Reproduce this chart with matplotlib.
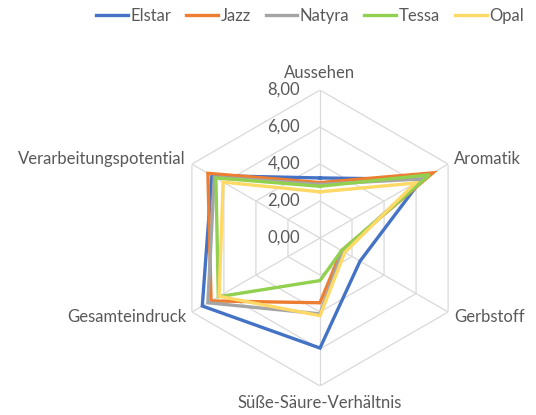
import numpy as np
import matplotlib
matplotlib.use("Agg")
from matplotlib import pyplot as plt
from matplotlib.transforms import offset_copy

plt.rcParams['font.family'] = ['Lato', 'DejaVu Sans']

categories = ["Aussehen", "Aromatik", "Gerbstoff", "Süße-Säure-Verhältnis",
              "Gesamteindruck", "Verarbeitungspotential"]
series_names = ["Elstar", "Jazz", "Natyra", "Tessa", "Opal"]
elstar = [3.25, 6.35, 2.5, 5.95, 7.35, 6.75]
jazz = [3.0, 7.05, 1.35, 3.5, 6.8, 7.0]
natyra = [2.9, 6.4, 1.4, 4.1, 7.0, 6.6]
tessa = [2.8, 6.85, 1.35, 2.3, 6.35, 6.5]
opal = [2.5, 5.95, 1.55, 4.2, 6.3, 6.05]
colors = ["#4472C4", "#ED7D31", "#A5A5A5", "#92D050", "#FFD966"]
levels = [2, 4, 6, 8]
level_labels = ["0,00", "2,00", "4,00", "6,00", "8,00"]

text_col = "#595959"
grid_col = "#D9D9D9"
fs = 12

fig = plt.figure(figsize=(5.36, 4.15), dpi=100)
ax = fig.add_axes([0.321, 0.0699, 0.552, 0.713], projection='polar')
ax.set_theta_offset(np.pi / 2)
ax.set_theta_direction(-1)
ax.set_ylim(0, 8)
ax.grid(False)
ax.spines['polar'].set_visible(False)
ax.set_xticks([])
ax.set_yticks([])
ax.patch.set_alpha(0)

angles = np.linspace(0, 2 * np.pi, len(categories), endpoint=False)
closed = np.append(angles, angles[0])

for lv in levels:
    ax.plot(closed, [lv] * len(closed), color=grid_col, lw=0.9, zorder=1)
for a in angles:
    ax.plot([a, a], [0, 8], color=grid_col, lw=0.9, zorder=1)

for name, vals, c in zip(series_names, [elstar, jazz, natyra, tessa, opal], colors):
    ax.plot(closed, list(vals) + [vals[0]], color=c, lw=2.4, label=name,
            zorder=3, solid_joinstyle='miter')

# radial value labels left of top axis
tr = offset_copy(ax.transData, fig=fig, x=-20, y=0, units='dots')
for lv, lab in zip([0] + levels, level_labels):
    ax.text(0, lv, lab, transform=tr, ha='right', va='center',
            fontsize=fs, color=text_col)

# category labels
for a, cat in zip(angles, categories):
    deg = np.degrees(a) % 360
    if deg < 1:
        ha, va, dx, dy = 'center', 'center', 0, 17
    elif abs(deg - 180) < 1:
        ha, va, dx, dy = 'center', 'center', 0, -17
    elif deg < 180:
        ha, va, dx, dy = 'left', 'center', 6, 5 if deg < 90 else -5
    else:
        ha, va, dx, dy = 'right', 'center', -6, -5 if deg < 270 else 5
    t = offset_copy(ax.transData, fig=fig, x=dx, y=dy, units='dots')
    ax.text(a, 8, cat, transform=t, ha=ha, va=va, fontsize=fs, color=text_col)

fig.legend(loc='center', bbox_to_anchor=(310 / 536, 1 - 16 / 415), ncol=5,
           frameon=False, fontsize=fs, handlelength=1.9, handletextpad=0.15,
           columnspacing=0.9, labelcolor=text_col)

fig.savefig("out.png", dpi=100)
